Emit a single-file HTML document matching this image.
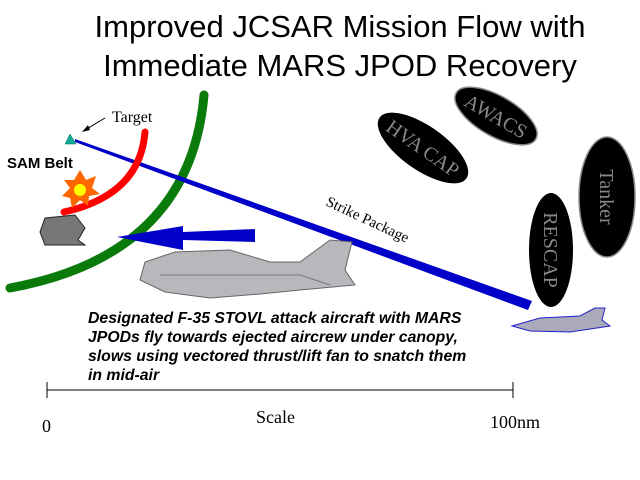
<!DOCTYPE html>
<html><head><style>
body{margin:0;background:#fff;width:640px;height:480px;overflow:hidden}
svg{display:block}
.t{font-family:"Liberation Sans",sans-serif;font-size:31px}
.s{font-family:"Liberation Serif",serif}
.i{font-family:"Liberation Sans",sans-serif;font-style:italic;font-weight:bold;font-size:15.8px}
</style></head><body>
<svg width="640" height="480" viewBox="0 0 640 480">
<text class="t" x="340" y="37" text-anchor="middle">Improved JCSAR Mission Flow with</text>
<text class="t" x="340" y="76" text-anchor="middle">Immediate MARS JPOD Recovery</text>
<path d="M204,95 Q190,255 10,288" stroke="#0a7a0a" stroke-width="9" fill="none" stroke-linecap="round"/>
<polygon points="75,139 75,142 528,310 532,301" fill="#0000c8"/>
<path d="M145,132 Q140,195 64,212" stroke="#f00" stroke-width="7" fill="none" stroke-linecap="round"/>
<polygon points="70,134 65,144 76,144" fill="#1a9" stroke="#066" stroke-width="0.5"/>
<text class="s" x="112" y="122" font-size="16">Target</text>
<line x1="105" y1="118" x2="85" y2="130" stroke="#000" stroke-width="1"/>
<polygon points="82,132 88,125 90,130" fill="#000"/>
<text x="7" y="168" font-family="Liberation Sans,sans-serif" font-weight="bold" font-size="15">SAM Belt</text>
<polygon points="80,170 86,180 96,176 92,188 100,194 89,196 88,206 80,200 72,208 70,198 62,196 70,188 64,180 74,180" fill="#f60"/>
<circle cx="80" cy="190" r="6" fill="#ff0"/>
<path d="M45,218 L75,215 L85,228 L78,240 L85,245 L45,245 L40,232 Z" fill="#777" stroke="#222"/>
<polygon points="255,229 255,242 183,240 183,250 117,237 183,226 183,232" fill="#0000c8"/>
<text class="s" x="0" y="0" font-size="15" transform="translate(325,205) rotate(25)">Strike Package</text>
<g font-family="Liberation Serif,serif" fill="#888" font-size="20">
<ellipse cx="423" cy="148" rx="53" ry="22" transform="rotate(35 423 148)" fill="#000"/>
<text x="0" y="7" text-anchor="middle" transform="translate(423,148) rotate(35)">HVA CAP</text>
<ellipse cx="496" cy="116" rx="46" ry="20" transform="rotate(30 496 116)" fill="#000" stroke="#888" stroke-width="1.5"/>
<text x="0" y="7" text-anchor="middle" transform="translate(496,116) rotate(30)">AWACS</text>
<ellipse cx="607" cy="197" rx="28" ry="60" fill="#000" stroke="#888" stroke-width="1.5"/>
<text x="0" y="7" text-anchor="middle" transform="translate(607,197) rotate(90)">Tanker</text>
<ellipse cx="551" cy="250" rx="22" ry="57" fill="#000"/>
<text x="0" y="7" text-anchor="middle" transform="translate(551,250) rotate(90)">RESCAP</text>
</g>
<path d="M145,262 L175,252 L230,250 L270,262 L300,262 L330,240 L352,242 L345,270 L355,285 L300,290 L260,294 L210,298 L165,292 L140,280 Z" fill="#b8b8bc" stroke="#666"/>
<path d="M160,275 L300,275 L330,285" stroke="#777" fill="none"/>
<path d="M512,326 L540,318 L580,316 L595,308 L605,308 L602,320 L610,326 L570,332 L530,331 Z" fill="#aab" stroke="#22c" stroke-width="1"/>
<g class="i">
<text x="88" y="323">Designated F-35 STOVL attack aircraft with MARS</text>
<text x="88" y="342">JPODs fly towards ejected aircrew under canopy,</text>
<text x="88" y="361">slows using vectored thrust/lift fan to snatch them</text>
<text x="88" y="380">in mid-air</text>
</g>
<line x1="47" y1="390" x2="513" y2="390" stroke="#000"/>
<line x1="47" y1="382" x2="47" y2="398" stroke="#000"/>
<line x1="513" y1="382" x2="513" y2="398" stroke="#000"/>
<g class="s" font-size="18">
<text x="42" y="432">0</text>
<text x="256" y="423">Scale</text>
<text x="490" y="428">100nm</text>
</g>
</svg>
</body></html>
